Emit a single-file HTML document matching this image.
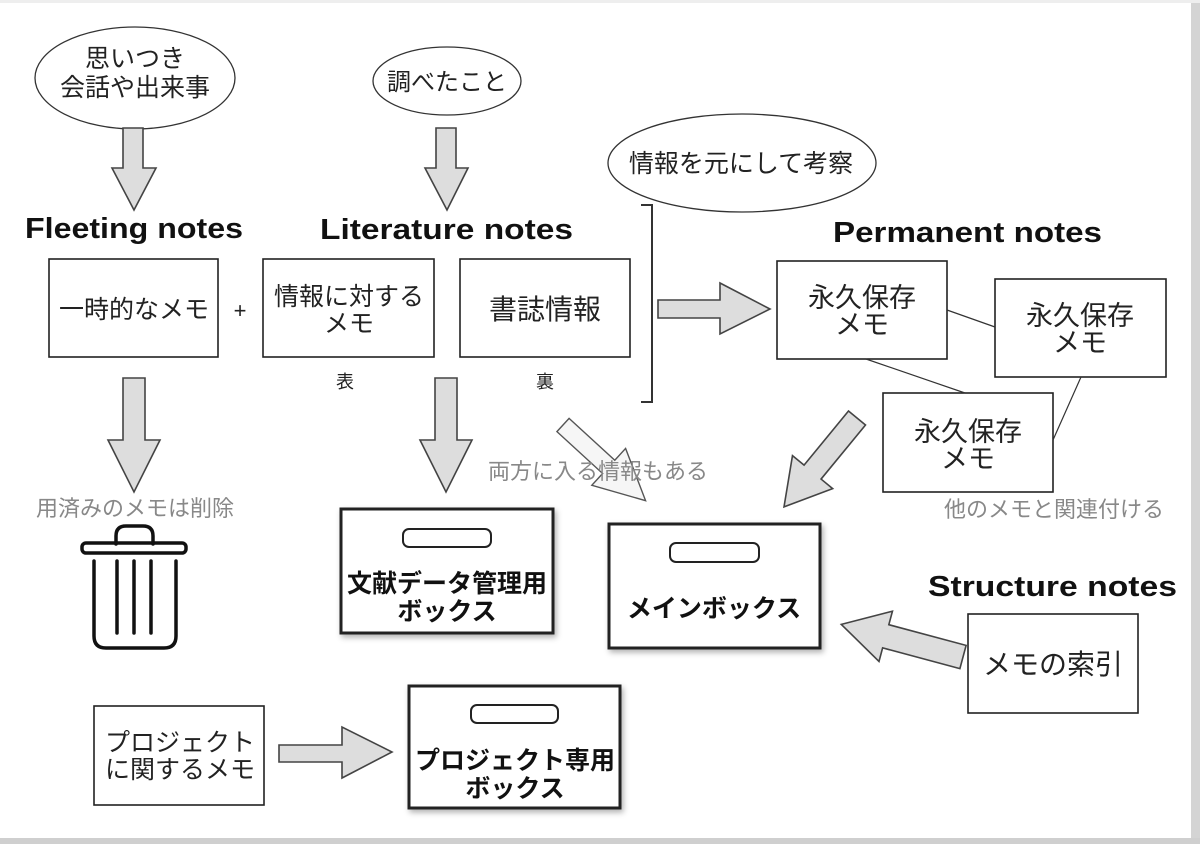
<!DOCTYPE html>
<html><head><meta charset="utf-8"><style>
html,body{margin:0;padding:0;background:#fff}
svg{display:block}
text{font-family:"Liberation Sans","Noto Sans CJK JP",sans-serif}
</style></head><body>
<svg width="1200" height="844" viewBox="0 0 1200 844" xmlns="http://www.w3.org/2000/svg">
<defs>
<filter id="sh" x="-10%" y="-10%" width="130%" height="130%"><feDropShadow dx="2" dy="3" stdDeviation="3" flood-color="#000" flood-opacity="0.3"/></filter>
</defs>
<rect width="1200" height="844" fill="#fff"/>
<rect x="1191" y="0" width="9" height="844" fill="#d4d4d4"/>
<rect x="0" y="838" width="1200" height="6" fill="#cfcfcf"/>
<rect x="0" y="0" width="1200" height="3" fill="#eee"/>

<g fill="none" stroke="#333" stroke-width="1.3">
<ellipse cx="135" cy="78" rx="100" ry="51"/>
<ellipse cx="447" cy="81" rx="74" ry="34"/>
<ellipse cx="742" cy="163" rx="134" ry="49"/>
</g>
<g font-size="25" fill="#222" text-anchor="middle">
<text x="135" y="67">思いつき</text>
<text x="135" y="96">会話や出来事</text>
<text x="447" y="90" font-size="24">調べたこと</text>
<text x="741" y="172">情報を元にして考察</text>
</g>

<g fill="#ddd" stroke="#444" stroke-width="1.6" stroke-linejoin="miter">
<polygon points="123,128 143,128 143,168 156,168 134,210 112,168 123,168"/>
<polygon points="436,128 456,128 456,168 468,168 447,210 425,168 436,168"/>
<polygon points="123,378 145,378 145,440 160,440 134,492 108,440 123,440"/>
<polygon points="435,378 457,378 457,440 472,440 446,492 420,440 435,440"/>
<polygon points="658,300 720,300 720,283 770,309 720,334 720,318 658,318"/>
<polygon points="279,745 342,745 342,727 392,752 342,778 342,762 279,762"/>
<g transform="translate(857,418) rotate(129.4)"><polygon points="0,-11 70,-11 70,-26 115,0 70,26 70,11 0,11"/></g>
<g transform="translate(963,657) rotate(195)"><polygon points="0,-12 80,-12 80,-26 126,0 80,26 80,12 0,12"/></g>
</g>
<g transform="translate(563,425) rotate(42.5)" fill="#f6f6f6" stroke="#555" stroke-width="1.4"><polygon points="0,-9 62,-9 62,-25 112,0 62,25 62,9 0,9"/></g>

<g font-size="29" font-weight="bold" fill="#111">
<text x="25" y="238" textLength="218" lengthAdjust="spacingAndGlyphs">Fleeting notes</text>
<text x="320" y="239" textLength="253" lengthAdjust="spacingAndGlyphs">Literature notes</text>
<text x="833" y="242" textLength="269" lengthAdjust="spacingAndGlyphs">Permanent notes</text>
<text x="928" y="596" textLength="249" lengthAdjust="spacingAndGlyphs">Structure notes</text>
</g>

<g fill="#fff" stroke="#222" stroke-width="1.6">
<rect x="49" y="259" width="169" height="98"/>
<rect x="263" y="259" width="171" height="98"/>
<rect x="460" y="259" width="170" height="98"/>
<rect x="777" y="261" width="170" height="98"/>
<rect x="995" y="279" width="171" height="98"/>
<rect x="883" y="393" width="170" height="99"/>
<rect x="968" y="614" width="170" height="99"/>
<rect x="94" y="706" width="170" height="99"/>
</g>
<g stroke="#333" stroke-width="1.2" fill="none">
<line x1="947" y1="310" x2="995" y2="327"/>
<line x1="866" y1="359" x2="965" y2="393"/>
<line x1="1081" y1="377" x2="1053" y2="440"/>
<polyline points="641,205 652,205 652,402 641,402" stroke-width="2"/>
</g>

<g font-size="25" fill="#222" text-anchor="middle">
<text x="134" y="318">一時的なメモ</text>
<text x="240" y="318" font-size="22">+</text>
<text x="349" y="305">情報に対する</text>
<text x="349" y="332">メモ</text>
<text x="545" y="319" font-size="28">書誌情報</text>
<text x="862" y="307" font-size="27">永久保存</text>
<text x="862" y="334" font-size="27">メモ</text>
<text x="1080" y="325" font-size="27">永久保存</text>
<text x="1080" y="352" font-size="27">メモ</text>
<text x="968" y="441" font-size="27">永久保存</text>
<text x="968" y="468" font-size="27">メモ</text>
<text x="1053" y="674" font-size="28">メモの索引</text>
<text x="180" y="751">プロジェクト</text>
<text x="180" y="778">に関するメモ</text>
<text x="345" y="388" font-size="18">表</text>
<text x="545" y="388" font-size="18">裏</text>
</g>
<g font-size="22" fill="#888" text-anchor="middle">
<text x="135" y="516">用済みのメモは削除</text>
<text x="598" y="479">両方に入る情報もある</text>
<text x="1054" y="517">他のメモと関連付ける</text>
</g>

<g fill="#fff" stroke="#222" stroke-width="3" filter="url(#sh)">
<rect x="341" y="509" width="212" height="124"/>
<rect x="609" y="524" width="211" height="124"/>
<rect x="409" y="686" width="211" height="122"/>
</g>
<g fill="#fff" stroke="#222" stroke-width="2">
<rect x="403" y="529" width="88" height="18" rx="6"/>
<rect x="670" y="543" width="89" height="19" rx="6"/>
<rect x="471" y="705" width="87" height="18" rx="6"/>
</g>
<g font-size="25" font-weight="bold" fill="#111" text-anchor="middle">
<text x="447" y="592">文献データ管理用</text>
<text x="447" y="620">ボックス</text>
<text x="714" y="617">メインボックス</text>
<text x="515" y="769">プロジェクト専用</text>
<text x="515" y="797">ボックス</text>
</g>

<g fill="none" stroke="#111" stroke-width="3.5" stroke-linecap="round">
<path d="M116,544 V536 Q116,526 126,526 H143 Q153,526 153,536 V544"/>
<rect x="82" y="543" width="104" height="10" rx="4"/>
<path d="M94,561 V636 Q94,648 106,648 H164 Q176,648 176,636 V561"/>
<line x1="117" y1="561" x2="117" y2="633"/>
<line x1="134" y1="561" x2="134" y2="633"/>
<line x1="151" y1="561" x2="151" y2="633"/>
</g>
</svg>
</body></html>
